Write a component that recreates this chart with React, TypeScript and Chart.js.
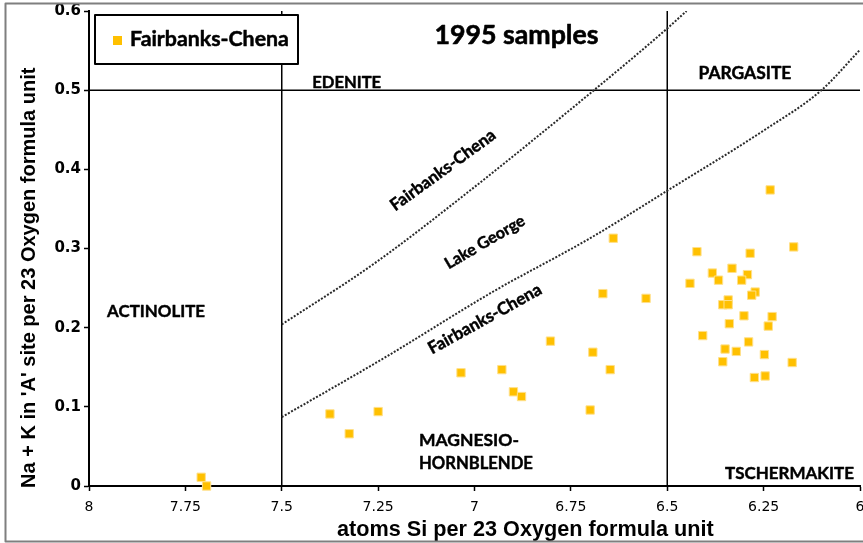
import React, { useEffect, useRef } from "react";
import { Chart, registerables } from "chart.js";

Chart.register(...registerables);

// Amphibole analyses, Fairbanks-Chena, 1995 samples
const siAtoms = [
  7.709, 7.695, 7.375, 7.325, 7.25, 7.035, 6.929, 6.899, 6.878, 6.803, 6.7, 6.693, 6.648, 6.667, 6.64, 6.555,
  6.233, 6.423, 6.285, 6.172, 6.383, 6.332, 6.367, 6.292, 6.307, 6.441, 6.272, 6.281, 6.342, 6.356, 6.342,
  6.301, 6.228, 6.238, 6.339, 6.408, 6.289, 6.35, 6.321, 6.248, 6.356, 6.176, 6.274, 6.246,
];
const naKSite = [
  0.011, 0.0, 0.091, 0.066, 0.094, 0.143, 0.147, 0.119, 0.113, 0.183, 0.096, 0.169, 0.147, 0.243, 0.313, 0.237,
  0.374, 0.296, 0.294, 0.302, 0.269, 0.275, 0.26, 0.267, 0.26, 0.256, 0.245, 0.241, 0.235, 0.229, 0.229,
  0.215, 0.214, 0.202, 0.205, 0.19, 0.182, 0.173, 0.17, 0.166, 0.157, 0.156, 0.137, 0.139,
];

// Dotted trend boundaries (upper and lower)
const upperSi = [7.5, 7.26, 7.02, 6.69, 6.5, 6.45];
const upperNaK = [0.204, 0.281, 0.37, 0.5, 0.578, 0.6];
const lowerSi = [7.5, 7.23, 6.95, 6.7, 6.5, 6.25, 6.1, 6.0];
const lowerNaK = [0.087, 0.163, 0.246, 0.313, 0.373, 0.449, 0.5, 0.551];

// Classification field boundaries
const siBoundaries = [7.5, 6.5];
const naKBoundary = 0.5;

const xTickValues = [8, 7.75, 7.5, 7.25, 7, 6.75, 6.5, 6.25, 6];
const xTickLabels = ["8", "7.75", "7.5", "7.25", "7", "6.75", "6.5", "6.25", "6"];
const yTickValues = [0, 0.1, 0.2, 0.3, 0.4, 0.5, 0.6];
const yTickLabels = ["0", "0.1", "0.2", "0.3", "0.4", "0.5", "0.6"];

const seriesName = "Fairbanks-Chena";
const chartTitle = "1995 samples";
const xTitle = "atoms Si per 23 Oxygen formula unit";
const yTitle = "Na + K in 'A' site per 23 Oxygen formula unit";

const fieldNames = ["EDENITE", "PARGASITE", "ACTINOLITE", "MAGNESIO-", "HORNBLENDE", "TSCHERMAKITE"];
const trendNames = ["Fairbanks-Chena", "Lake George", "Fairbanks-Chena"];

const POINT_COLOR = "#FFC000";
const LABEL_FONT = "Lato, 'Open Sans', sans-serif";
const TITLE_FONT = "'Liberation Sans', Arial, sans-serif";

function fitFont(ctx: CanvasRenderingContext2D, text: string, weight: string, family: string, width: number) {
  ctx.font = `${weight} 100px ${family}`;
  const w = ctx.measureText(text).width;
  const size = (100 * width) / w;
  ctx.font = `${weight} ${size}px ${family}`;
  return size;
}

// filled text with a hairline outline for a heavier look
function heavyText(ctx: CanvasRenderingContext2D, text: string, x: number, y: number, extra = 0.45) {
  ctx.fillText(text, x, y);
  ctx.lineWidth = extra;
  ctx.strokeStyle = ctx.fillStyle as string;
  ctx.strokeText(text, x, y);
}

const decorations = {
  id: "decorations",
  afterDraw(chart: any) {
    const ctx: CanvasRenderingContext2D = chart.ctx;
    const xs = chart.scales.x;
    const ys = chart.scales.y;
    const px = (v: number) => xs.getPixelForValue(v);
    const py = (v: number) => ys.getPixelForValue(v);
    ctx.save();
    ctx.fillStyle = "#000";
    ctx.lineJoin = "round";
    ctx.textBaseline = "alphabetic";

    // chart title
    ctx.textAlign = "center";
    fitFont(ctx, chartTitle, "700", LABEL_FONT, 164);
    heavyText(ctx, chartTitle, px(6.891), py(0.558), 0.6);

    // field names
    ctx.textAlign = "left";
    const fields: [string, number, number, number][] = [
      [fieldNames[0], 7.421, 0.503, 69],
      [fieldNames[1], 6.419, 0.514, 93],
      [fieldNames[2], 7.953, 0.213, 98],
      [fieldNames[3], 7.144, 0.0505, 100],
      [fieldNames[4], 7.144, 0.021, 114],
      [fieldNames[5], 6.35, 0.0088, 129],
    ];
    for (const [t, x, y, w] of fields) {
      fitFont(ctx, t, "700", LABEL_FONT, w);
      heavyText(ctx, t, px(x), py(y));
    }

    // trend names along the dotted curves
    const trends: [string, number, number, number, number][] = [
      [trendNames[0], 7.082, 0.399, -36, 126],
      [trendNames[1], 6.973, 0.308, -30.5, 90],
      [trendNames[2], 6.973, 0.211, -29, 127],
    ];
    ctx.textAlign = "center";
    ctx.textBaseline = "middle";
    for (const [t, x, y, a, w] of trends) {
      ctx.save();
      ctx.translate(px(x), py(y));
      ctx.rotate((a * Math.PI) / 180);
      fitFont(ctx, t, "700", LABEL_FONT, w);
      heavyText(ctx, t, 0, 0);
      ctx.restore();
    }

    // legend
    ctx.fillStyle = "#fff";
    ctx.fillRect(95, 15, 203, 49);
    ctx.strokeStyle = "#000";
    ctx.lineWidth = 2;
    ctx.strokeRect(95, 15, 203, 49);
    ctx.fillStyle = POINT_COLOR;
    ctx.fillRect(113, 36, 9, 9);
    ctx.fillStyle = "#000";
    ctx.textAlign = "left";
    ctx.textBaseline = "alphabetic";
    fitFont(ctx, seriesName, "700", LABEL_FONT, 159);
    heavyText(ctx, seriesName, 130, 46, 0.5);

    // axis titles
    fitFont(ctx, xTitle, "700", TITLE_FONT, 377);
    ctx.fillText(xTitle, 337, 536);
    ctx.save();
    ctx.translate(35, 488);
    ctx.rotate(-Math.PI / 2);
    fitFont(ctx, yTitle, "700", TITLE_FONT, 421);
    ctx.fillText(yTitle, 0, 0);
    ctx.restore();

    // outer frame
    ctx.strokeStyle = "#7f7f7f";
    ctx.lineWidth = 2;
    ctx.strokeRect(5.5, 3.5, 880, 538);
    ctx.restore();
  },
};

export default function App() {
  const canvasRef = useRef<HTMLCanvasElement | null>(null);

  useEffect(() => {
    if (!canvasRef.current) return;

    const points = siAtoms.map((s, i) => ({ x: s, y: naKSite[i] }));
    const upper = upperSi.map((s, i) => ({ x: s, y: upperNaK[i] }));
    const lower = lowerSi.map((s, i) => ({ x: s, y: lowerNaK[i] }));

    const boundaryStyle = {
      showLine: true,
      pointRadius: 0,
      borderColor: "#000",
      borderWidth: 1.5,
      fill: false,
    };
    const curveStyle = {
      showLine: true,
      pointRadius: 0,
      borderColor: "#2a2a2a",
      borderWidth: 2,
      borderDash: [2, 1.6],
      cubicInterpolationMode: "monotone" as const,
      fill: false,
    };

    const chart = new Chart(canvasRef.current, {
      type: "scatter",
      data: {
        datasets: [
          {
            label: seriesName,
            data: points,
            pointStyle: "rect",
            pointRadius: 5.9,
            pointHoverRadius: 5.9,
            backgroundColor: POINT_COLOR,
            borderColor: "#FFE08A",
            borderWidth: 1,
            clip: false,
          } as any,
          { label: "upper", data: upper, ...curveStyle } as any,
          { label: "lower", data: lower, ...curveStyle } as any,
          ...siBoundaries.map((s) => ({
            label: `Si ${s}`,
            data: [
              { x: s, y: 0 },
              { x: s, y: 0.6 },
            ],
            ...boundaryStyle,
          })),
          {
            label: "A-site 0.5",
            data: [
              { x: 8, y: naKBoundary },
              { x: 6, y: naKBoundary },
            ],
            ...boundaryStyle,
          } as any,
        ],
      },
      options: {
        responsive: false,
        animation: false,
        devicePixelRatio: 1,
        events: [],
        layout: { padding: { left: 0, right: 10, top: 11, bottom: 0 } },
        plugins: {
          legend: { display: false },
          tooltip: { enabled: false },
          title: { display: false },
        },
        scales: {
          x: {
            type: "linear",
            min: 6,
            max: 8,
            reverse: true,
            afterBuildTicks: (s: any) => {
              s.ticks = xTickValues.map((v) => ({ value: v }));
            },
            afterFit: (s: any) => {
              s.height = 57;
              s.paddingLeft = 0;
              s.paddingRight = 0;
            },
            ticks: {
              autoSkip: false,
              maxRotation: 0,
              padding: 8,
              color: "#000",
              font: { family: "'DejaVu Sans', sans-serif", size: 14 },
              callback: (v: any) => xTickLabels[xTickValues.indexOf(Number(v))],
            },
            grid: {
              display: true,
              drawOnChartArea: false,
              drawTicks: true,
              tickLength: 5,
              tickColor: "#000",
              tickWidth: 1.5,
            },
            border: { display: true, color: "#000", width: 2 },
          },
          y: {
            type: "linear",
            min: 0,
            max: 0.6,
            afterBuildTicks: (s: any) => {
              s.ticks = yTickValues.map((v) => ({ value: v }));
            },
            afterFit: (s: any) => {
              s.width = 89;
              s.paddingTop = 0;
              s.paddingBottom = 0;
            },
            ticks: {
              autoSkip: false,
              padding: 3,
              color: "#000",
              font: { family: "'DejaVu Sans', sans-serif", size: 15, weight: "bold" },
              callback: (v: any) => yTickLabels[yTickValues.indexOf(Number(v))],
            },
            grid: {
              display: true,
              drawOnChartArea: false,
              drawTicks: true,
              tickLength: 5,
              tickColor: "#000",
              tickWidth: 1.5,
            },
            border: { display: true, color: "#000", width: 2 },
          },
        },
      },
      plugins: [decorations],
    } as any);

    return () => chart.destroy();
  }, []);

  return (
    <div
      style={{
        position: "absolute",
        left: 0,
        top: 0,
        width: 863,
        height: 543,
        overflow: "hidden",
        background: "#fff",
      }}
    >
      <canvas ref={canvasRef} width={870} height={543} style={{ display: "block" }} />
    </div>
  );
}
